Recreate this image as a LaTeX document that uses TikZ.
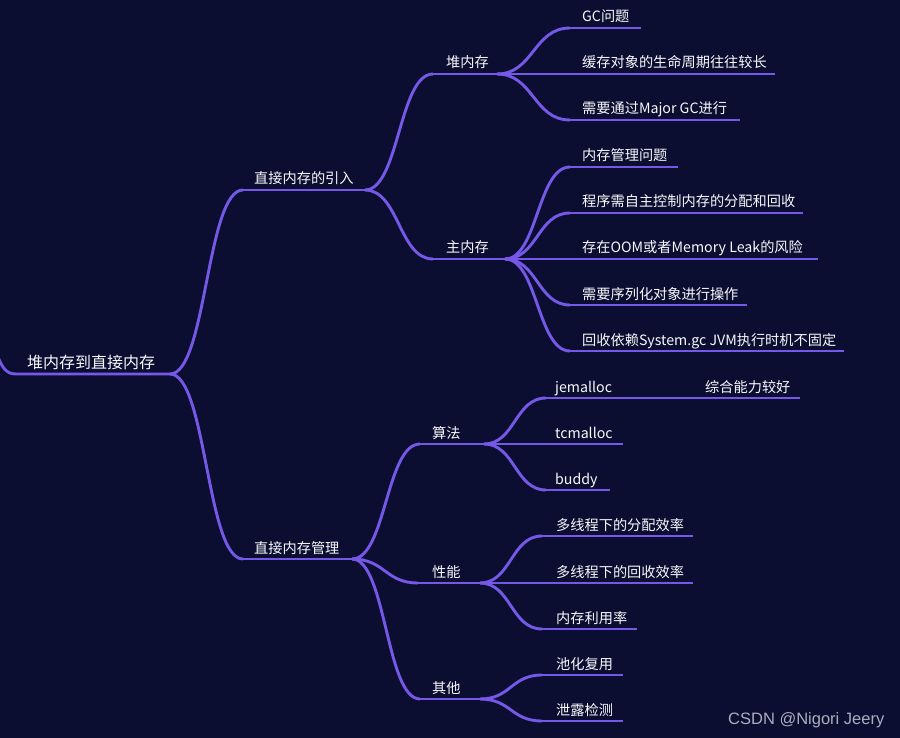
\documentclass[tikz,border=0pt]{standalone}
\usepackage{fontspec}
\setmainfont{Noto Sans CJK SC}
\newfontfamily\wmfont{Liberation Sans}
\usetikzlibrary{calc}
\definecolor{bgc}{RGB}{11,14,48}
\definecolor{linec}{RGB}{117,88,232}
\definecolor{txtc}{RGB}{248,248,252}
\definecolor{wmc}{RGB}{170,174,190}
\tikzset{
  edge/.style={draw=linec, line width=2.9pt, line cap=butt},
  lbl/.style={anchor=base west, inner sep=0pt, text=txtc, font=\fontsize{14.2}{16}\selectfont},
  rootlbl/.style={anchor=base west, inner sep=0pt, text=txtc, font=\fontsize{16}{18}\selectfont},
}
% \topic{name}{xstart}{xend}{y}{xtext}{text}
\newcommand\topic[6]{%
  \coordinate (#1-s) at (#2,#4);
  \coordinate (#1-e) at (#3,#4);
  \draw[edge] (#1-s) -- (#1-e);
  \node[lbl] (#1) at (#5,#4-6) {#6};
}
\newcommand\linkto[2]{%
  \draw[edge] let \p1=(#1-e), \p2=(#2-s) in
    (\p1) .. controls ({(\x1+\x2)/2},\y1) and ({(\x1+\x2)/2},\y2) .. (\p2);
}
\begin{document}
\begin{tikzpicture}[x=1pt,y=-1pt]
\fill[bgc] (0,0) rectangle (900,738);
\useasboundingbox (0,0) rectangle (900,738);

% root
\coordinate (root-in) at (-4,352);
\coordinate (root-s) at (16,374);
\coordinate (root-e) at (170,374);
\draw[edge] (root-in) .. controls (2,368) and (6,374) .. (root-s) -- (root-e);
\node[rootlbl] (root) at (27,368) {堆内存到直接内存};

% level 1
\topic{b1}{243}{365}{190}{254}{直接内存的引入}
\topic{b2}{243}{352}{559}{254}{直接内存管理}
\linkto{root}{b1}
\linkto{root}{b2}

% level 2
\topic{c1}{433}{497}{74}{446}{堆内存}
\topic{c2}{433}{505}{259}{446}{主内存}
\linkto{b1}{c1}
\linkto{b1}{c2}

\topic{c3}{420}{484}{444}{432}{算法}
\topic{c4}{418}{480}{583}{432}{性能}
\topic{c5}{420}{480}{699}{432}{其他}
\linkto{b2}{c3}
\linkto{b2}{c4}
\linkto{b2}{c5}

% under 堆内存
\topic{d1}{570}{641}{28}{582}{GC问题}
\topic{d2}{570}{775}{74}{582}{缓存对象的生命周期往往较长}
\topic{d3}{570}{740}{120}{582}{需要通过Major GC进行}
\linkto{c1}{d1}
\linkto{c1}{d2}
\linkto{c1}{d3}

% under 主内存
\topic{d4}{570}{678}{167}{582}{内存管理问题}
\topic{d5}{570}{803}{213}{582}{程序需自主控制内存的分配和回收}
\topic{d6}{570}{818}{259}{582}{存在OOM或者Memory Leak的风险}
\topic{d7}{570}{747}{305}{582}{需要序列化对象进行操作}
\topic{d8}{570}{844}{351}{582}{回收依赖System.gc JVM执行时机不固定}
\linkto{c2}{d4}
\linkto{c2}{d5}
\linkto{c2}{d6}
\linkto{c2}{d7}
\linkto{c2}{d8}

% under 算法
\topic{e1}{546}{622}{398}{555}{jemalloc}
\topic{e2}{546}{623}{444}{555}{tcmalloc}
\topic{e3}{546}{610}{490}{555}{buddy}
\linkto{c3}{e1}
\linkto{c3}{e2}
\linkto{c3}{e3}
\topic{f1}{622}{800}{398}{705}{综合能力较好}
\linkto{e1}{f1}

% under 性能
\topic{e4}{542}{693}{536}{556}{多线程下的分配效率}
\topic{e5}{542}{693}{583}{556}{多线程下的回收效率}
\topic{e6}{542}{637}{629}{556}{内存利用率}
\linkto{c4}{e4}
\linkto{c4}{e5}
\linkto{c4}{e6}

% under 其他
\topic{e7}{542}{623}{675}{556}{池化复用}
\topic{e8}{542}{623}{721}{556}{泄露检测}
\linkto{c5}{e7}
\linkto{c5}{e8}

% watermark
\node[anchor=base west, inner sep=0pt, text=wmc, font=\wmfont\fontsize{16.5}{19}\selectfont] (wm) at (728,724) {CSDN @Nigori Jeery};
\end{tikzpicture}
\end{document}
